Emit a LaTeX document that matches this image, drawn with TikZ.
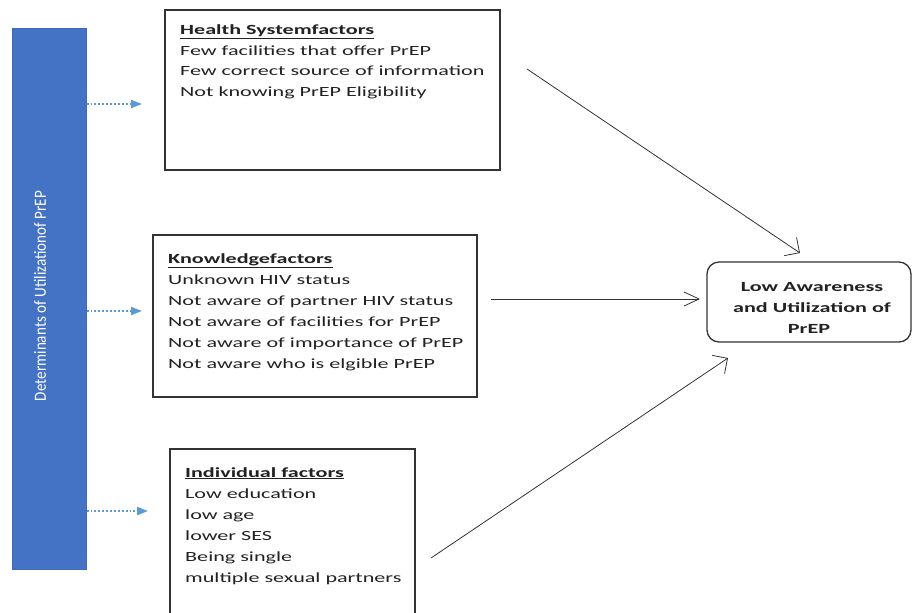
\documentclass[tikz,border=0pt]{standalone}
\usepackage{fontspec}
\usetikzlibrary{arrows.meta}
\newfontfamily\boxfont[FakeStretch=1.58]{Carlito}
\newfontfamily\barfont[FakeStretch=0.89]{Carlito}
\definecolor{barblue}{HTML}{4472C4}
\definecolor{baredge}{HTML}{3F69B5}
\definecolor{dotblue}{HTML}{5B9BD5}
\definecolor{ink}{HTML}{222222}
\definecolor{edge}{HTML}{333333}
\begin{document}
\begin{tikzpicture}[x=1pt,y=-1pt,
  factorbox/.style={draw=edge, line width=1.3pt, anchor=north west, inner sep=0pt, outer sep=0pt},
  factortext/.style={anchor=north west, inner sep=0pt, align=left, text=ink,
    font=\boxfont\fontsize{14}{21}\selectfont},
  outcome/.style={draw=edge, line width=1.3pt, rounded corners=12pt, align=center, text=ink,
    font=\boxfont\bfseries\fontsize{14}{21}\selectfont,
    minimum width=204pt, minimum height=80pt, inner sep=0pt},
  cause/.style={draw=edge, line width=0.8pt, -{Straight Barb[length=11pt,width=22pt]}},
  causemid/.style={draw=edge, line width=0.8pt, -{Straight Barb[length=15pt,width=14pt]}},
  dotarrow/.style={draw=dotblue, line width=1.9pt, dotted, -{Triangle[length=11pt,width=8pt]}},
]
\clip (0,0) rectangle (913,613);
\fill[white] (0,0) rectangle (913,613);

% left bar
\node[fill=barblue, draw=baredge, line width=0.6pt, anchor=north west,
      minimum width=74pt, minimum height=541pt, inner sep=0pt] (bar) at (12,28) {};
\node[rotate=90, text=white, font=\barfont\fontsize{17}{20}\selectfont, inner sep=0pt]
      (bartext) at (40,296) {Determinants of Utilizationof PrEP};

% factor boxes
\node[factorbox, minimum width=335pt, minimum height=160pt] (hs) at (165,10) {};
\node[factortext, font=\boxfont\fontsize{14}{20.5}\selectfont] (hstext)
  at ([xshift=15pt,yshift=-14.5pt]hs.north west)
  {\underline{\textbf{Health Systemfactors}}\\
   Few facilities that offer PrEP\\
   Few correct source of information\\
   Not knowing PrEP Eligibility};

\node[factorbox, minimum width=324pt, minimum height=162pt] (kn) at (153,235) {};
\node[factortext] (kntext)
  at ([xshift=15pt,yshift=-18pt]kn.north west)
  {\underline{\textbf{Knowledgefactors}}\\
   Unknown HIV status\\
   Not aware of partner HIV status\\
   Not aware of facilities for PrEP\\
   Not aware of importance of PrEP\\
   Not aware who is elgible PrEP};

\node[factorbox, minimum width=245pt, minimum height=185pt] (ind) at (170,449) {};
\node[factortext] (indtext)
  at ([xshift=15pt,yshift=-18pt]ind.north west)
  {\underline{\textbf{Individual factors}}\\
   Low education\\
   low age\\
   lower SES\\
   Being single\\
   multiple sexual partners};

% outcome
\node[outcome] (out) at (809,302)
  {\rule{0pt}{20pt}\hspace{6pt}Low Awareness\\\hspace{6pt}and Utilization of\\PrEP};

% dotted arrows from the bar
\coordinate (d1) at (142,104);
\coordinate (d2) at (142,311);
\coordinate (d3) at (148,511);
\draw[dotarrow] (bar.east |- d1) -- (d1);
\draw[dotarrow] (bar.east |- d2) -- (d2);
\draw[dotarrow] (bar.east |- d3) -- (d3);

% causal arrows
\coordinate (c1s) at (527,69);  \coordinate (c1e) at (800,253);
\coordinate (c2s) at (491,299); \coordinate (c2e) at (700,299);
\coordinate (c3s) at (431,558); \coordinate (c3e) at (728,358);
\draw[cause] (c1s) -- (c1e);
\draw[causemid] (c2s) -- (c2e);
\draw[cause] (c3s) -- (c3e);
\end{tikzpicture}
\end{document}
